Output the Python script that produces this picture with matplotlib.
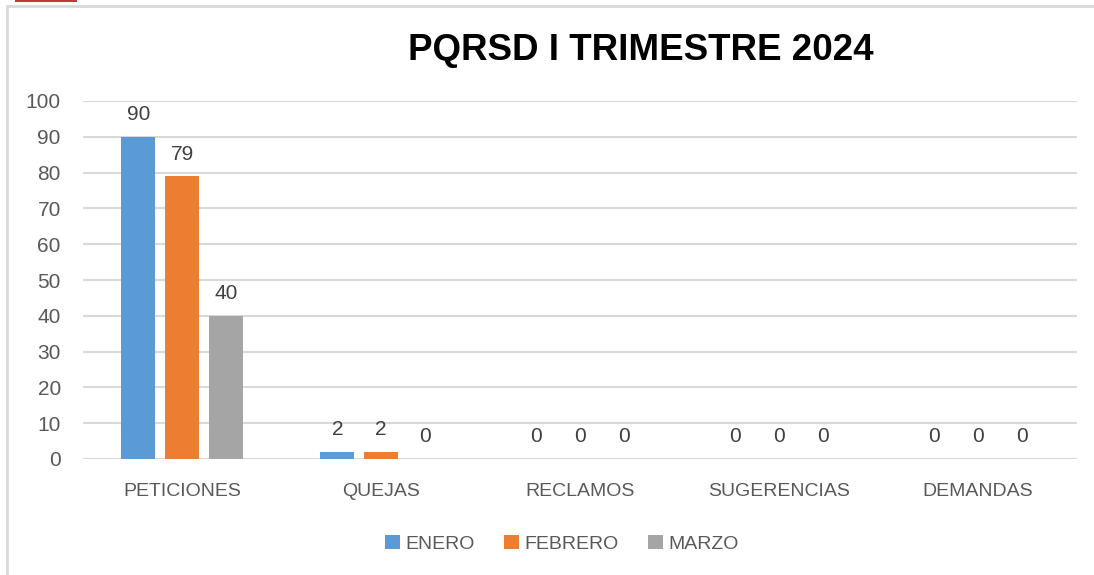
import numpy as np
import matplotlib
matplotlib.use('Agg')
import matplotlib.pyplot as plt
from matplotlib.patches import Rectangle

# Data
categories = ['PETICIONES', 'QUEJAS', 'RECLAMOS', 'SUGERENCIAS', 'DEMANDAS']
months = ['ENERO', 'FEBRERO', 'MARZO']
enero = [90, 2, 0, 0, 0]
febrero = [79, 2, 0, 0, 0]
marzo = [40, 0, 0, 0, 0]
series = [enero, febrero, marzo]
colors = ['#5b9bd5', '#ed7d31', '#a5a5a5']

title = 'PQRSD I TRIMESTRE 2024'

plt.rcParams['font.family'] = ['Liberation Sans', 'DejaVu Sans']
text_color = '#595959'
grid_color = '#d9d9d9'

fig = plt.figure(figsize=(10.94, 5.75), dpi=100, facecolor='w')
ax = fig.add_axes([83/1094, 1-459/575, 994/1094, 358/575])

x = np.arange(len(categories))
bar_w = 0.171
step = 0.221
for i, (vals, name, c) in enumerate(zip(series, months, colors)):
    pos = x + (i-1)*step
    bars = ax.bar(pos, vals, width=bar_w, color=c, label=name, zorder=3)
    for xb, v in zip(pos, vals):
        ax.annotate(str(v), (xb, v), xytext=(0, 9), textcoords='offset points',
                    ha='center', va='bottom', fontsize=15, color='#404040')

ax.set_xlim(-0.5, len(categories)-0.5)
ax.set_ylim(0, 100)
ax.set_yticks(range(0, 101, 10))
ax.set_xticks(x)
ax.set_xticklabels(categories)
ax.tick_params(axis='both', length=0, colors=text_color)
ax.tick_params(axis='x', pad=17, labelsize=14)
ax.tick_params(axis='y', pad=16, labelsize=15)
ax.grid(axis='y', color=grid_color, lw=1.5, zorder=0)
for s in ax.spines.values():
    s.set_visible(False)

fig.text(641/1094, 1-50/575, title, ha='center', va='center', fontsize=26.5,
         fontweight='bold', color='black')

leg = ax.legend(loc='center', bbox_to_anchor=(562/1094, 1-544/575), bbox_transform=fig.transFigure,
                ncol=3, frameon=False, fontsize=14, handlelength=0.75, handleheight=0.75,
                handletextpad=0.3, columnspacing=1.5)
for t in leg.get_texts():
    t.set_color(text_color)

# outer chart frame (cropped)
fig.patches.append(Rectangle((7/1094, -0.1), 1.2, 1-6/575+0.1, transform=fig.transFigure,
                             fill=False, ec=grid_color, lw=2, zorder=0))
# fragment of the header logo at the top edge
fig.patches.append(Rectangle((15/1094, 1-2/575), 62/1094, 2/575, transform=fig.transFigure,
                             color='#c0393b', lw=0))

fig.savefig('out.png', dpi=100)
